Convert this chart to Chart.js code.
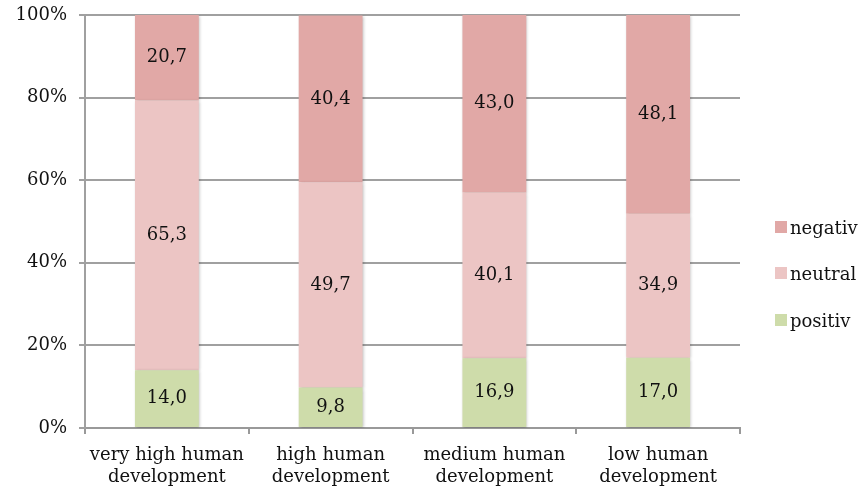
<!DOCTYPE html>
<html><head><meta charset="utf-8">
<script src="https://cdn.jsdelivr.net/npm/chart.js@4/dist/chart.umd.min.js"></script>
<style>html,body{margin:0;padding:0;background:#fff}#wrap{width:859px;height:488px}</style>
</head><body><div id="wrap"><canvas id="c" width="859" height="488"></canvas></div>
<script>
const categories = [["very high human","development"],["high human","development"],["medium human","development"],["low human","development"]];
const positiv = [14.0, 9.8, 16.9, 17.0];
const neutral = [65.3, 49.7, 40.1, 34.9];
const negativ = [20.7, 40.4, 43.0, 48.1];
const yTicks = [0,20,40,60,80,100];
const seriesNames = ["positiv","neutral","negativ"];
const colors = ["#CEDCAA","#ECC5C4","#E1A8A6"];
const FONT = "'DejaVu Serif', serif";

const labelPlugin = {
  id:'vals',
  afterDatasetsDraw(chart){
    const ctx = chart.ctx;
    ctx.save();
    ctx.font = "18px " + FONT;
    ctx.fillStyle = "#111";
    ctx.textAlign = "center"; ctx.textBaseline = "middle";
    chart.data.datasets.forEach((ds,i)=>{
      chart.getDatasetMeta(i).data.forEach((bar,j)=>{
        const v = ds.data[j];
        const yc = (bar.y + bar.base)/2;
        ctx.fillText(v.toFixed(1).replace('.',','), bar.x, yc);
      });
    });
    ctx.restore();
  }
};
const legendPlugin = {
  id:'leg',
  afterDraw(chart){
    const ctx = chart.ctx;
    ctx.save();
    ctx.font = "18px " + FONT;
    ctx.textBaseline = "middle"; ctx.textAlign = "left";
    const order = [2,1,0];
    const ys = [229,275,322];
    order.forEach((di,k)=>{
      ctx.fillStyle = colors[di];
      ctx.fillRect(775, ys[k]-8, 12, 12);
      ctx.fillStyle = "#111";
      ctx.fillText(seriesNames[di], 790, ys[k]);
    });
    ctx.restore();
  }
};
const shadowPlugin = {
  id:'shadow',
  beforeDatasetsDraw(chart){ chart.ctx.save(); chart.ctx.shadowColor='rgba(0,0,0,0.25)'; chart.ctx.shadowBlur=3; chart.ctx.shadowOffsetX=1; chart.ctx.shadowOffsetY=1; },
  afterDatasetsDraw(chart){ chart.ctx.restore(); }
};

new Chart(document.getElementById('c'),{
  type:'bar',
  data:{labels:categories, datasets:[
    {label:seriesNames[0],data:positiv,backgroundColor:colors[0]},
    {label:seriesNames[1],data:neutral,backgroundColor:colors[1]},
    {label:seriesNames[2],data:negativ,backgroundColor:colors[2]}
  ]},
  options:{
    responsive:false, animation:false,
    layout:{padding:{left:0,right:119,top:15,bottom:0}},
    datasets:{bar:{categoryPercentage:1, barPercentage:0.39}},
    plugins:{legend:{display:false},tooltip:{enabled:false}},
    scales:{
      x:{stacked:true,
        grid:{display:true,drawOnChartArea:false,offset:true,tickLength:6,color:'#999',lineWidth:2},
        border:{color:'#999',width:2},
        ticks:{font:{family:FONT,size:18,lineHeight:1.2},color:'#111',padding:11,maxRotation:0},
        afterFit(s){s.height=60; s.paddingLeft=0; s.paddingRight=0;}
      },
      y:{stacked:true,min:0,max:100,
        afterBuildTicks(s){s.ticks=yTicks.map(v=>({value:v}));},
        grid:{color:'#a0a0a0',lineWidth:2,tickLength:6},
        border:{color:'#a0a0a0',width:2},
        ticks:{font:{family:FONT,size:18},color:'#111',padding:12,callback:v=>v+'%'},
        afterFit(s){s.width=85; s.paddingTop=0; s.paddingBottom=0;}
      }
    }
  },
  plugins:[shadowPlugin,labelPlugin,legendPlugin]
});
</script></body></html>
